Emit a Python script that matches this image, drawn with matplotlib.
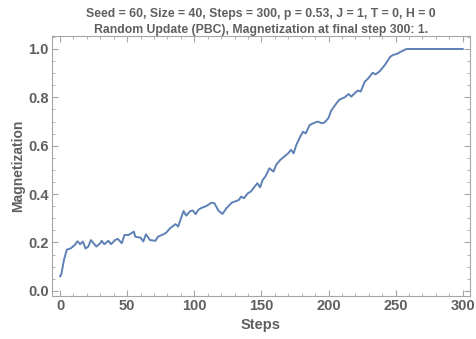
import matplotlib
matplotlib.use("Agg")
import matplotlib.pyplot as plt
from matplotlib.ticker import MultipleLocator

# values
steps = [0, 1, 3, 5, 8, 11, 13, 15, 17, 19, 21, 23, 26, 27, 30, 31, 33, 36, 38, 41,
         43, 46, 48, 51, 53, 55, 56, 60, 62, 64, 67, 71, 73, 77, 79, 82, 86, 88, 92, 94,
         97, 99, 101, 103, 105, 109, 113, 115, 118, 121, 124, 128, 130, 133, 135, 137, 140, 142, 145, 147,
         149, 151, 153, 156, 159, 161, 164, 167, 170, 172, 174, 176, 179, 181, 183, 186, 190, 192, 195, 197,
         200, 202, 206, 208, 212, 215, 217, 220, 222, 224, 227, 229, 233, 235, 238, 242, 246, 248, 251, 254,
         258, 300]
magnetization = [0.06, 0.07, 0.13, 0.17, 0.176, 0.19, 0.205, 0.193, 0.204, 0.175, 0.183, 0.21, 0.19, 0.183, 0.197, 0.207, 0.193, 0.207, 0.193, 0.21,
                 0.215, 0.197, 0.231, 0.231, 0.238, 0.245, 0.224, 0.22, 0.204, 0.234, 0.21, 0.207, 0.224, 0.234, 0.24, 0.259, 0.276, 0.266, 0.33, 0.311,
                 0.33, 0.332, 0.317, 0.335, 0.342, 0.351, 0.365, 0.362, 0.332, 0.318, 0.342, 0.365, 0.369, 0.375, 0.39, 0.383, 0.404, 0.41, 0.431, 0.445,
                 0.428, 0.459, 0.473, 0.507, 0.493, 0.521, 0.541, 0.555, 0.569, 0.583, 0.569, 0.603, 0.638, 0.658, 0.651, 0.686, 0.696, 0.70, 0.693, 0.696,
                 0.715, 0.745, 0.776, 0.79, 0.80, 0.814, 0.803, 0.82, 0.828, 0.824, 0.865, 0.875, 0.902, 0.895, 0.907, 0.934, 0.968, 0.975, 0.98, 0.989,
                 1.0, 1.0]

title = ("Seed = 60, Size = 40, Steps = 300, p = 0.53, J = 1, T = 0, H = 0\n"
         "Random Update (PBC), Magnetization at final step 300: 1.")

text_color = "#5f5f5f"
frame_color = "#a6a6a6"
plt.rcParams["font.family"] = ["Liberation Sans", "DejaVu Sans"]
plt.rcParams["font.weight"] = "bold"

fig = plt.figure(figsize=(4.77, 3.39), dpi=100)
ax = fig.add_axes([0.109, 0.127, 0.876, 0.767])

ax.plot(steps, magnetization, color="#5E81B5", linewidth=1.4)

ax.set_xlim(-6, 305.3)
ax.set_ylim(-0.021, 1.054)
ax.xaxis.set_major_locator(MultipleLocator(50))
ax.xaxis.set_minor_locator(MultipleLocator(10))
ax.yaxis.set_major_locator(MultipleLocator(0.2))
ax.yaxis.set_minor_locator(MultipleLocator(0.05))
ax.yaxis.set_major_formatter(plt.FuncFormatter(lambda v, p: f"{v:.1f}"))

ax.tick_params(which="both", direction="in", top=True, right=True,
               color=frame_color, labelcolor=text_color, labelsize=10.5, pad=2.5)
ax.tick_params(which="major", length=4, width=0.8)
ax.tick_params(which="minor", length=2, width=0.6)
ax.tick_params(labeltop=False, labelright=False)
for s in ax.spines.values():
    s.set_color(frame_color)
    s.set_linewidth(0.8)

ax.set_xlabel("Steps", fontsize=10.5, color=text_color, fontweight="bold", labelpad=3)
ax.set_ylabel("Magnetization", fontsize=10, color=text_color, fontweight="bold", labelpad=2)
ax.set_title(title, fontsize=8.8, color=text_color, fontweight="bold", pad=2, linespacing=1.45)

fig.savefig("out.png", dpi=100)
